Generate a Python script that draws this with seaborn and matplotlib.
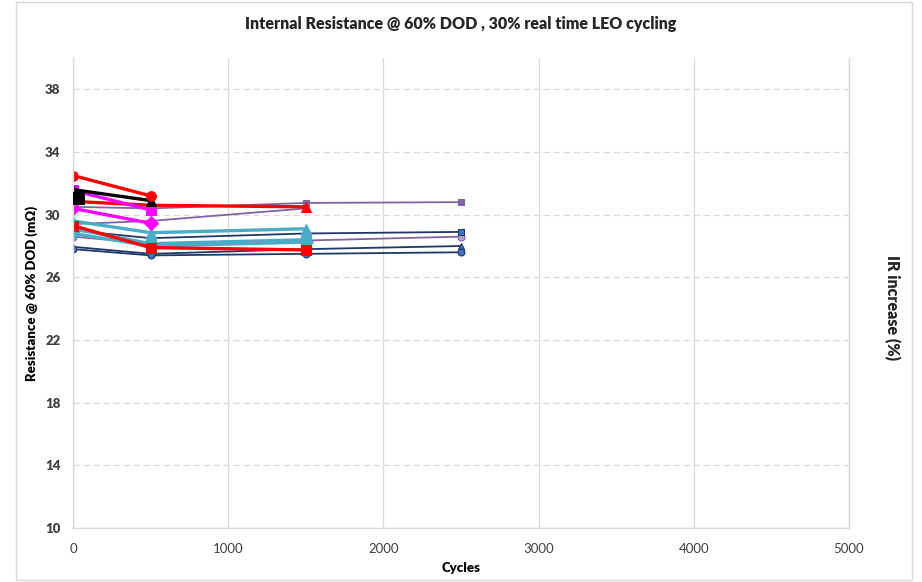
import matplotlib
matplotlib.use("Agg")
import matplotlib.pyplot as plt
import seaborn as sns

sns.set_theme(style="white")
plt.rcParams['font.family'] = ['Lato', 'DejaVu Sans']

# valeurs (cycles, mOhm)
cyc_2 = [0, 500]
cyc_3 = [0, 500, 1500]
cyc_4 = [0, 500, 1500, 2500]

red_circle = [32.5, 31.2]
black_tri = [31.6, 30.9]
black_sq_cyc = [35]
black_sq = [31.05]
mag_square = [31.55, 30.3]
mag_diamond = [30.4, 29.45]
red_tri = [30.85, 30.6, 30.5]
red_square = [29.3, 27.9, 27.75]
cyan_tri = [29.6, 28.85, 29.1]
cyan_sq = [29.1, 28.15, 28.4]
cyan_dia = [28.8, 28.0, 28.25]
purple_sq = [30.5, 30.4, 30.75, 30.8]
purple_tri = [29.4, 29.6, 30.4]
lav_circle = [28.6, 28.15, 28.35, 28.6]
navy_sq = [29.0, 28.5, 28.8, 28.9]
navy_tri = [27.95, 27.5, 27.8, 28.0]
navy_circle = [27.8, 27.4, 27.5, 27.6]

y_ticks = [10, 14, 18, 22, 26, 30, 34, 38]
x_ticks = [0, 1000, 2000, 3000, 4000, 5000]

fig = plt.figure(figsize=(9.22, 5.82), dpi=100)
ax = fig.add_axes([0.0792, 0.0928, 0.8416, 0.8075])

# series fines d'abord (dessous)
thin = [
    (cyc_4, purple_sq, "#8064A2", "s", "#8064A2"),
    (cyc_3, purple_tri, "#8064A2", "^", "#8064A2"),
    (cyc_4, lav_circle, "#8064A2", "o", "#B3A2C7"),
    (cyc_4, navy_sq, "#1F3864", "s", "#4472C4"),
    (cyc_4, navy_tri, "#1F3864", "^", "#4472C4"),
    (cyc_4, navy_circle, "#1F3864", "o", "#4472C4"),
]
for xs, ys, col, mk, fc in thin:
    sns.lineplot(x=xs, y=ys, ax=ax, color=col, linewidth=1.3, marker=mk,
                 markersize=5, markerfacecolor=fc, markeredgecolor=col,
                 markeredgewidth=0.8, legend=False)

thick = [
    (cyc_3, cyan_dia, "#4BACC6", "D"),
    (cyc_3, cyan_sq, "#4BACC6", "s"),
    (cyc_3, cyan_tri, "#4BACC6", "^"),
    (cyc_3, red_square, "#FF0000", "s"),
    (cyc_3, red_tri, "#FF0000", "^"),
    (cyc_2, mag_diamond, "#FF00FF", "D"),
    (cyc_2, mag_square, "#FF00FF", "s"),
    (cyc_2, black_tri, "#000000", "^"),
    (cyc_2, red_circle, "#FF0000", "o"),
]
for xs, ys, col, mk in thick:
    sns.lineplot(x=xs, y=ys, ax=ax, color=col, linewidth=2.4, marker=mk,
                 markersize=7, markerfacecolor=col, markeredgecolor=col,
                 legend=False)

sns.scatterplot(x=black_sq_cyc, y=black_sq, ax=ax, color="black", marker="s",
                s=80, edgecolor="black", legend=False, zorder=5)

ax.set_xlim(0, 5000)
ax.set_ylim(10, 40)
ax.set_yticks(y_ticks)
ax.set_xticks(x_ticks)
ax.set_yticklabels([str(v) for v in y_ticks], fontsize=9.5, fontweight="heavy", color="#404040")
ax.set_xticklabels([str(v) for v in x_ticks], fontsize=9.5, color="#404040")
ax.tick_params(axis="x", length=0, pad=11)
ax.tick_params(axis="y", length=0, pad=9)

ax.grid(axis="x", color="#D9D9D9", linewidth=0.9, linestyle="-")
ax.grid(axis="y", color="#D9D9D9", linewidth=0.9, linestyle=(0, (5, 3)))
ax.set_axisbelow(True)
for side in ["left", "bottom", "right"]:
    ax.spines[side].set_color("#D9D9D9")
    ax.spines[side].set_linewidth(1.0)
ax.spines["top"].set_visible(False)

ax.set_xlabel("Cycles", fontsize=9.5, fontweight="heavy", color="#000000", labelpad=5)
ax.set_ylabel("Resistance @ 60% DOD (m\u03a9)", fontsize=9.5, fontweight="heavy",
              color="#000000", labelpad=5)
fig.text(0.5, 0.958, "Internal Resistance @ 60% DOD , 30% real time LEO cycling",
         ha="center", va="center", fontsize=11.5, fontweight="heavy")
fig.text(0.967, 0.472, "IR increase (%)", rotation=-90, ha="center", va="center",
         fontsize=11.5, fontweight="heavy")

# cadre du graphique
fig.patches.append(plt.Rectangle((0.017, 0.003), 0.972, 0.993, transform=fig.transFigure,
                                 fill=False, edgecolor="#D9D9D9", linewidth=1.0))

fig.savefig("out.png", dpi=100)
